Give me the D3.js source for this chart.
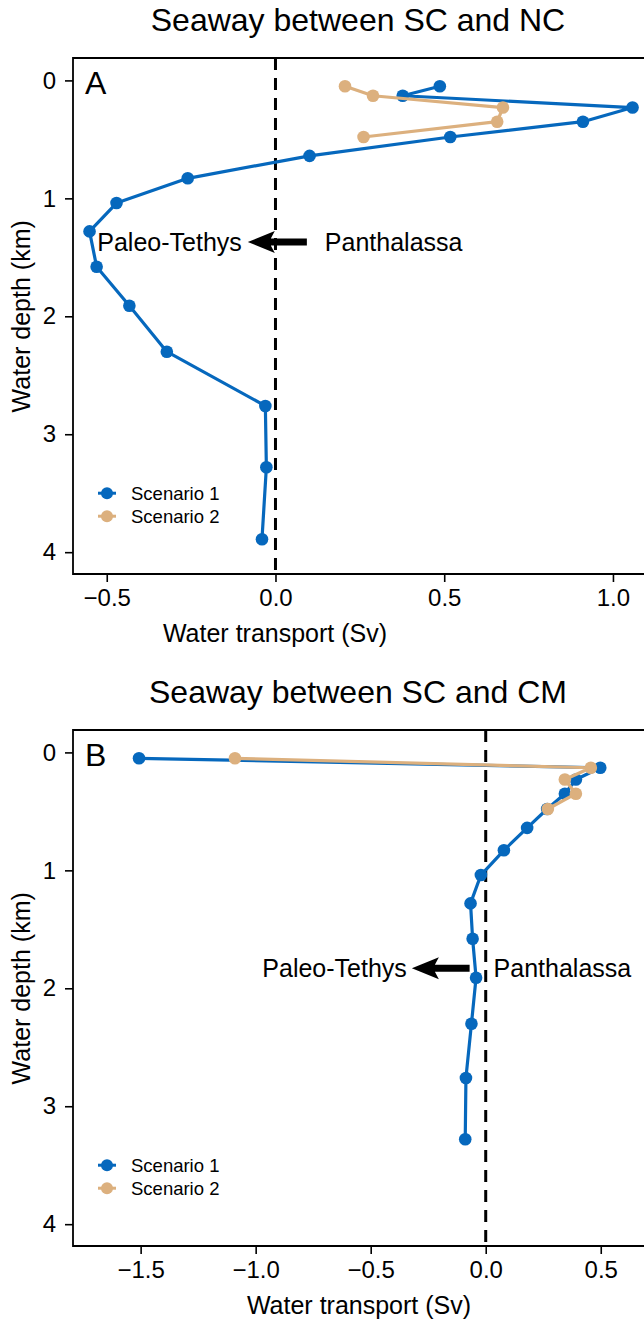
<!DOCTYPE html>
<html>
<head>
<meta charset="utf-8">
<script src="https://cdn.jsdelivr.net/npm/d3@7/dist/d3.min.js"></script>
<style>
  body { margin: 0; background: #fff; }
  text { font-family: "Liberation Sans", Arial, sans-serif; fill: #000; }
</style>
</head>
<body>
<div id="chart"></div>
<script>
// model depth levels (km)
var depths = [0.05, 0.13, 0.23, 0.35, 0.48, 0.64, 0.83, 1.04, 1.28, 1.58, 1.91, 2.30, 2.76, 3.28, 3.89];

// Panel A: seaway between SC and NC (Sv)
var a_scenario1 = [0.487, 0.377, 1.058, 0.911, 0.518, 0.101, -0.26, -0.471, -0.551, -0.53, -0.433, -0.322, -0.030, -0.027, -0.040];
var a_scenario2 = [0.206, 0.289, 0.674, 0.657, 0.261];

// Panel B: seaway between SC and CM (Sv)
var b_scenario1 = [-1.507, 0.498, 0.392, 0.344, 0.267, 0.18, 0.079, -0.021, -0.066, -0.057, -0.042, -0.062, -0.086, -0.089];
var b_scenario2 = [-1.09, 0.457, 0.344, 0.392, 0.27];

var yTicks = [0, 1, 2, 3, 4];
var a_xTicks = [-0.5, 0, 0.5, 1.0];
var b_xTicks = [-1.5, -1.0, -0.5, 0, 0.5];

var seriesNames = ["Scenario 1", "Scenario 2"];
var colors = ["#0668bd", "#dcb07e"];

// arrow annotations: [tail value, tip value, depth]
var a_arrow = [0.093, -0.082, 1.37];
var b_arrow = [-0.07, -0.321, 1.83];

var W = 644, H = 1320;

var svg = d3.select("#chart")
  .append("svg")
    .attr("width", W)
    .attr("height", H);

svg.append("rect").attr("width", W).attr("height", H).attr("fill", "#fff");

function drawPanel(p) {
  var x = d3.scaleLinear().domain(p.xDomain).range([73, 644]);
  var y = d3.scaleLinear().domain([-0.19, 4.185]).range([p.top, p.top + 516]);
  var g = svg.append("g");

  // title
  g.append("text")
    .attr("x", 358)
    .attr("y", p.top - 27)
    .attr("text-anchor", "middle")
    .style("font-size", "32px")
    .text(p.title);

  // dashed zero line
  g.append("line")
    .attr("x1", x(0)).attr("x2", x(0))
    .attr("y1", y.range()[0]).attr("y2", y.range()[1])
    .attr("stroke", "#000")
    .attr("stroke-width", 3)
    .attr("stroke-dasharray", "12,8");

  // series
  var line = d3.line()
    .x(function(d) { return x(d[0]); })
    .y(function(d) { return y(d[1]); });

  p.series.forEach(function(vals, i) {
    var pts = vals.map(function(v, j) { return [v, depths[j]]; });
    g.append("path")
      .datum(pts)
      .attr("d", line)
      .attr("fill", "none")
      .attr("stroke", colors[i])
      .attr("stroke-width", 3.2)
      .attr("stroke-linejoin", "round");
    g.selectAll(null)
      .data(pts)
      .enter()
      .append("circle")
        .attr("cx", function(d) { return x(d[0]); })
        .attr("cy", function(d) { return y(d[1]); })
        .attr("r", 6.3)
        .attr("fill", colors[i]);
  });

  // arrow
  var ax0 = x(p.arrow[0]), ax1 = x(p.arrow[1]), ay = y(p.arrow[2]);
  var hl = 27;
  g.append("path")
    .attr("d", "M" + ax0 + "," + (ay - 3.5) +
               "L" + (ax1 + hl - 4) + "," + (ay - 3.5) +
               "L" + (ax1 + hl) + "," + (ay - 11) +
               "L" + ax1 + "," + ay +
               "L" + (ax1 + hl) + "," + (ay + 11) +
               "L" + (ax1 + hl - 4) + "," + (ay + 3.5) +
               "L" + ax0 + "," + (ay + 3.5) + "Z")
    .attr("fill", "#000");

  g.append("text")
    .attr("x", x(p.arrow[1]) - p.leftGap)
    .attr("y", ay + 9)
    .attr("text-anchor", "end")
    .style("font-size", "25px")
    .text("Paleo-Tethys");
  g.append("text")
    .attr("x", x(p.arrow[0]) + p.rightGap)
    .attr("y", ay + 9)
    .style("font-size", "25px")
    .text("Panthalassa");

  // frame (left, top, bottom)
  g.append("path")
    .attr("d", "M644," + y.range()[0] + "H73V" + y.range()[1] + "H644")
    .attr("fill", "none")
    .attr("stroke", "#000")
    .attr("stroke-width", 1.8);

  // axes
  var yAxis = g.append("g")
    .attr("transform", "translate(73,0)")
    .call(d3.axisLeft(y).tickValues(yTicks).tickFormat(d3.format("d")).tickSize(8).tickPadding(9));
  yAxis.select(".domain").remove();

  var xAxis = g.append("g")
    .attr("transform", "translate(0," + y.range()[1] + ")")
    .call(d3.axisBottom(x).tickValues(p.xTicks).tickFormat(d3.format(".1f")).tickSize(8).tickPadding(7));
  xAxis.select(".domain").remove();

  g.selectAll(".tick line").attr("stroke-width", 1.6);
  g.selectAll(".tick text")
    .style("font-size", "24px")
    .style("font-family", "'Liberation Sans', Arial, sans-serif");

  // axis labels
  g.append("text")
    .attr("x", p.xLabelX)
    .attr("y", y.range()[1] + 68)
    .attr("text-anchor", "middle")
    .style("font-size", "25px")
    .text("Water transport (Sv)");

  g.append("text")
    .attr("transform", "translate(30," + y(2) + ") rotate(-90)")
    .attr("text-anchor", "middle")
    .style("font-size", "25px")
    .text("Water depth (km)");

  // panel letter
  g.append("text")
    .attr("x", 85)
    .attr("y", y(0) + 14)
    .style("font-size", "32px")
    .text(p.letter);

  // legend
  seriesNames.forEach(function(name, i) {
    var ly = y(3.5 + i * 0.195);
    g.append("line")
      .attr("x1", 98).attr("x2", 116)
      .attr("y1", ly).attr("y2", ly)
      .attr("stroke", colors[i])
      .attr("stroke-width", 3);
    g.append("circle")
      .attr("cx", 107).attr("cy", ly).attr("r", 6)
      .attr("fill", colors[i]);
    g.append("text")
      .attr("x", 131)
      .attr("y", ly + 6.5)
      .style("font-size", "18.5px")
      .text(name);
  });
}

drawPanel({
  title: "Seaway between SC and NC",
  letter: "A",
  top: 58,
  xDomain: [-0.6, 1.092],
  xTicks: a_xTicks,
  series: [a_scenario1, a_scenario2],
  arrow: a_arrow,
  leftGap: 6,
  rightGap: 18,
  xLabelX: 275
});

drawPanel({
  title: "Seaway between SC and CM",
  letter: "B",
  top: 730,
  xDomain: [-1.794, 0.688],
  xTicks: b_xTicks,
  series: [b_scenario1, b_scenario2],
  arrow: b_arrow,
  leftGap: 5,
  rightGap: 24,
  xLabelX: 359
});
</script>
</body>
</html>
